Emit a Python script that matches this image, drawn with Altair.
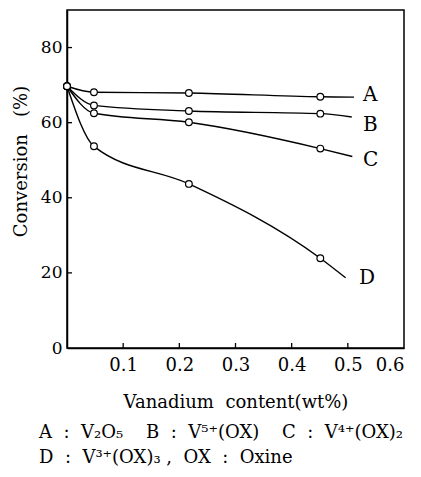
import altair as alt
import pandas as pd

# measured data points (markers)
x_pts = [0.0, 0.048, 0.217, 0.451]
conv_A = [69.7, 68.1, 67.9, 66.9]
conv_B = [69.7, 64.6, 63.1, 62.4]
conv_C = [69.7, 62.5, 60.1, 53.1]
conv_D = [69.7, 53.7, 43.7, 23.9]
# line end points (no marker)
end_x = [0.511, 0.507, 0.508, 0.496]
end_y = [66.8, 61.5, 51.0, 18.7]
series = ["A", "B", "C", "D"]
# curve labels
label_x = [0.527, 0.527, 0.527, 0.52]
label_y = [67.5, 59.5, 50.1, 18.7]
x_ticks = [0.1, 0.2, 0.3, 0.4, 0.5]
x_labels = [0.1, 0.2, 0.3, 0.4, 0.5, 0.6]
y_ticks = [20, 40, 60, 80]
y_labels = [0, 20, 40, 60, 80]
NB = "\u00a0"
SEP = NB * 2 + ":" + NB * 2
legend_lines = ["A" + SEP + "V\u2082O\u2085" + NB * 4 + "B" + SEP + "V\u2075\u207a(OX)"
                + NB * 4 + "C" + SEP + "V\u2074\u207a(OX)\u2082",
                "D" + SEP + "V\u00b3\u207a(OX)\u2083" + NB + "," + NB * 2 + "OX" + SEP + "Oxine"]
x_title = "Vanadium" + NB * 2 + "content(wt%)"
y_title = "Conversion" + NB * 3 + "(%)"

FONT = "DejaVu Serif"
W, H = 337, 338

pts_rows, line_rows = [], []
for s, ys, ex, ey in zip(series, [conv_A, conv_B, conv_C, conv_D], end_x, end_y):
    for xv, yv in zip(x_pts, ys):
        pts_rows.append({"s": s, "x": xv, "y": yv})
        line_rows.append({"s": s, "x": xv, "y": yv})
    line_rows.append({"s": s, "x": ex, "y": ey})
pts = pd.DataFrame(pts_rows)
lines = pd.DataFrame(line_rows)
labels = pd.DataFrame({"s": series, "x": label_x, "y": label_y})

xs = alt.Scale(domain=[0, 0.6], nice=False, zero=False)
ys = alt.Scale(domain=[0, 90], nice=False)

xaxis = alt.Axis(values=x_labels, format=".1f", labelPadding=8, titlePadding=19)
yaxis = alt.Axis(values=y_labels, labelPadding=5, titlePadding=10, titleY=161 - 10)

base_line = alt.Chart(lines).mark_line(interpolate="monotone", color="black",
                                        strokeWidth=1.4).encode(
    x=alt.X("x:Q", scale=xs, axis=xaxis, title=x_title),
    y=alt.Y("y:Q", scale=ys, axis=yaxis, title=y_title),
    detail="s:N",
    order="x:Q",
)

points = alt.Chart(pts).mark_point(shape="circle", filled=True, fill="white",
                                   stroke="black", strokeWidth=1.2, size=45,
                                   opacity=1).encode(
    x=alt.X("x:Q", scale=xs), y=alt.Y("y:Q", scale=ys))

text = alt.Chart(labels).mark_text(font=FONT, fontSize=20, align="left",
                                   baseline="middle", color="black").encode(
    x=alt.X("x:Q", scale=xs), y=alt.Y("y:Q", scale=ys), text="s:N")

xt = alt.Chart(pd.DataFrame({"t": x_ticks})).mark_rule(color="black", strokeWidth=1.3).encode(
    x=alt.X("t:Q", scale=xs), y=alt.value(H), y2=alt.value(H - 5))
yt = alt.Chart(pd.DataFrame({"t": y_ticks})).mark_rule(color="black", strokeWidth=1.3).encode(
    y=alt.Y("t:Q", scale=ys), x=alt.value(0), x2=alt.value(5))

legs = [
    alt.Chart(pd.DataFrame({"t": [line]})).mark_text(
        font=FONT, fontSize=18, align="left", baseline="middle", color="black").encode(
        text="t:N", x=alt.value(-28), y=alt.value(H + 85 + 25 * i))
    for i, line in enumerate(legend_lines)
]

chart = alt.layer(base_line, points, text, xt, yt, *legs).properties(
    width=W, height=H, background="white",
    autosize=alt.AutoSizeParams(type="none"),
    padding={"left": 59, "top": 2, "right": 9, "bottom": 121},
).configure_view(stroke="black", strokeWidth=1.5).configure_axis(
    ticks=False, grid=False, titleFontSize=18,
    labelFont=FONT, titleFont=FONT, titleFontWeight="normal",
    domainColor="black", domainWidth=1.5, labelColor="black", titleColor="black",
).configure_axisX(labelFontSize=18).configure_axisY(labelFontSize=17)

chart.save("out.html", embed_options={"renderer": "svg", "actions": False})
